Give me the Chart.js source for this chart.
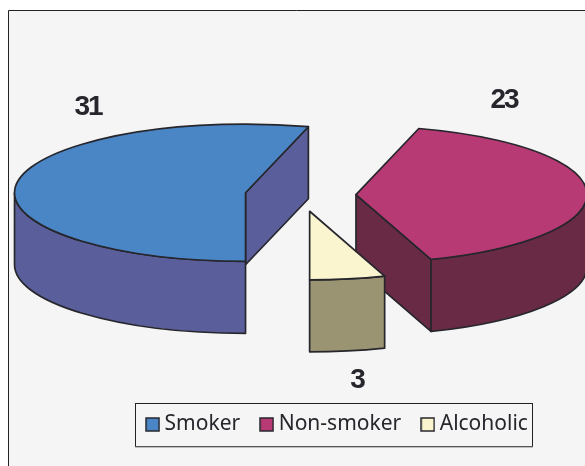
<!DOCTYPE html>
<html>
<head>
<meta charset="utf-8">
<style>
  html, body { margin: 0; padding: 0; background: #fff; overflow: hidden; }
  canvas { display: block; }
</style>
<script src="https://cdn.jsdelivr.net/npm/chart.js@4"></script>
</head>
<body>
<canvas id="chart" width="585" height="466"></canvas>
<script>
const categories = ['Smoker', 'Non-smoker', 'Alcoholic'];
const values = [31, 23, 3];

const topColors = ['#4a85c5', '#b83a75', '#faf4cf'];
const wallColors = ['#5a5f9b', '#682a45', '#9a9472'];
const lineColor = '#26262c';

// the fake 3D pie
const pieX = 300.5;
const pieY = 195;
const pieRadius = 231;
const tilt = 0.297;
const depth = 72;
const explode = 55.5;
const labelSpots = [[88, 107], [504, 100], [357, 380]];

function wallPath(ctx, cx, cy, r, from, to) {
    ctx.beginPath();
    ctx.ellipse(cx, cy, r, r * tilt, 0, from, to);
    ctx.ellipse(cx, cy + depth, r, r * tilt, 0, to, from, true);
    ctx.closePath();
}

function drawSlice(ctx, arc, i) {
    const start = arc.startAngle;
    const end = arc.endAngle;
    const mid = (start + end) / 2;
    const r = arc.outerRadius;
    const cx = pieX + Math.cos(mid) * explode;
    const cy = pieY + Math.sin(mid) * explode * tilt;

    ctx.fillStyle = wallColors[i];
    ctx.strokeStyle = lineColor;
    ctx.lineWidth = 1.7;
    ctx.lineJoin = 'round';

    // cut faces, only the ones turned to the viewer
    [[start, -1], [end, 1]].forEach(([a, side]) => {
        if (Math.cos(a) * side < 0.001) return;
        const px = cx + Math.cos(a) * r;
        const py = cy + Math.sin(a) * r * tilt;
        ctx.beginPath();
        ctx.moveTo(cx, cy);
        ctx.lineTo(px, py);
        ctx.lineTo(px, py + depth);
        ctx.lineTo(cx, cy + depth);
        ctx.closePath();
        ctx.fill();
        ctx.stroke();
    });

    // outer rim, front half of the ellipse only
    for (let turn = 0; turn < 2; turn++) {
        const from = Math.max(start, turn * 2 * Math.PI);
        const to = Math.min(end, turn * 2 * Math.PI + Math.PI);
        if (to <= from) continue;
        wallPath(ctx, cx, cy, r, from, to);
        ctx.fill();
        ctx.stroke();
    }

    // top face is the library's own arc, squashed
    ctx.save();
    ctx.translate(cx, cy);
    ctx.scale(1, tilt);
    ctx.translate(-arc.x, -arc.y);
    arc.draw(ctx);
    ctx.restore();

    ctx.beginPath();
    ctx.moveTo(cx, cy);
    ctx.ellipse(cx, cy, r, r * tilt, 0, start, end);
    ctx.closePath();
    ctx.stroke();
}

const pie3d = {
    id: 'pie3d',
    beforeDraw(chart) {
        const ctx = chart.ctx;
        ctx.save();
        ctx.fillStyle = '#f5f5f5';
        ctx.fillRect(8, 10, 577, 456);
        ctx.strokeStyle = '#222';
        ctx.lineWidth = 1;
        ctx.beginPath();
        ctx.moveTo(8.5, 466);
        ctx.lineTo(8.5, 10.5);
        ctx.lineTo(585, 10.5);
        ctx.stroke();

        // legend frame
        ctx.strokeStyle = '#222';
        ctx.strokeRect(135.5, 403.5, 397, 43);
        ctx.strokeStyle = '#888';
        ctx.beginPath();
        ctx.moveTo(135, 447);
        ctx.lineTo(533, 447);
        ctx.stroke();
        ctx.restore();
    },
    beforeDatasetsDraw(chart) {
        const ctx = chart.ctx;
        const arcs = chart.getDatasetMeta(0).data;
        ctx.save();
        arcs.forEach((arc, i) => drawSlice(ctx, arc, i));

        ctx.fillStyle = '#26262c';
        ctx.font = 'bold 28px "Liberation Sans", Arial, sans-serif';
        ctx.textAlign = 'center';
        ctx.textBaseline = 'middle';
        ctx.letterSpacing = '-2px';
        values.forEach((v, i) => {
            ctx.fillText(String(v), labelSpots[i][0], labelSpots[i][1]);
        });
        ctx.restore();
        return false;
    }
};

function legendMarker(color) {
    const c = document.createElement('canvas');
    c.width = 15;
    c.height = 15;
    const g = c.getContext('2d');
    g.fillStyle = color;
    g.fillRect(1, 1, 13, 13);
    g.strokeStyle = lineColor;
    g.lineWidth = 1.5;
    g.strokeRect(1, 1, 13, 13);
    return c;
}

new Chart(document.getElementById('chart'), {
    type: 'pie',
    data: {
        labels: categories,
        datasets: [{
            data: values,
            backgroundColor: topColors,
            borderWidth: 0
        }]
    },
    options: {
        responsive: false,
        animation: false,
        rotation: 180,
        radius: pieRadius,
        layout: { padding: { left: 94, bottom: 21 } },
        plugins: {
            tooltip: { enabled: false },
            legend: {
                position: 'bottom',
                labels: {
                    usePointStyle: true,
                    pointStyleWidth: 3,
                    padding: 25,
                    color: '#26262c',
                    font: { family: '"Noto Sans", sans-serif', size: 21 },
                    generateLabels(chart) {
                        return categories.map((name, i) => ({
                            text: name,
                            fillStyle: topColors[i],
                            strokeStyle: lineColor,
                            fontColor: '#26262c',
                            lineWidth: 1,
                            pointStyle: legendMarker(topColors[i]),
                            index: i
                        }));
                    }
                }
            }
        }
    },
    plugins: [pie3d]
});
</script>
</body>
</html>
